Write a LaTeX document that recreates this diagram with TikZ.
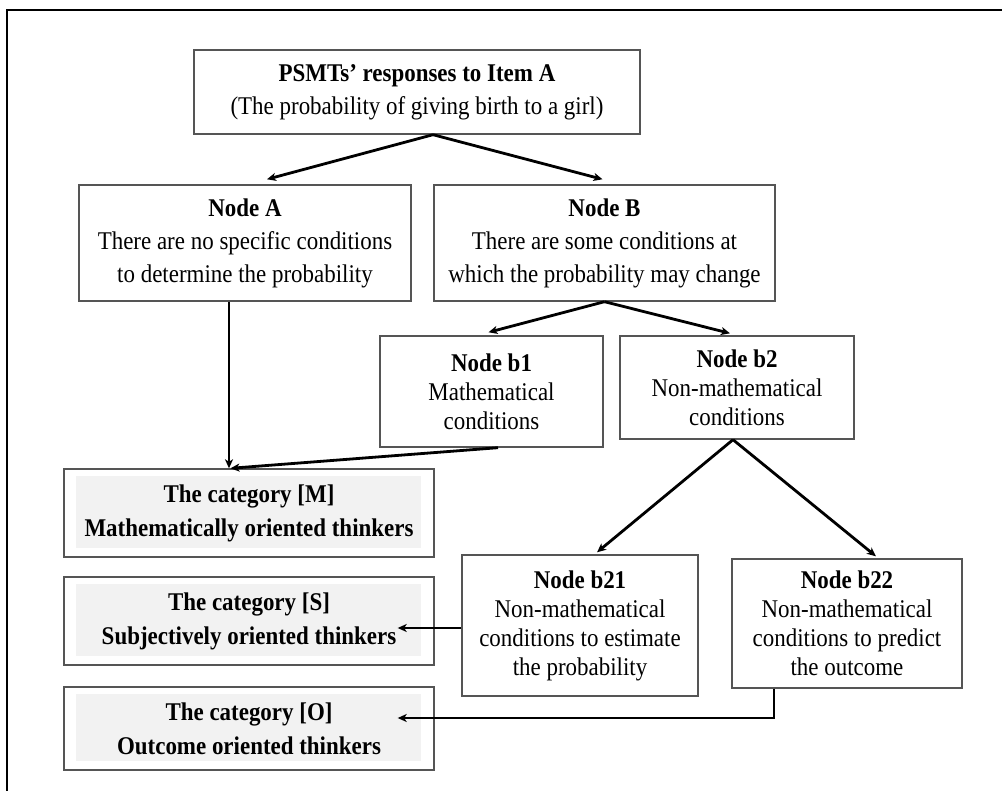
\documentclass[tikz,border=0pt]{standalone}
\usepackage{fontspec}
\setmainfont[FakeStretch=0.9]{Liberation Serif}
\usetikzlibrary{arrows.meta}

\definecolor{boxline}{HTML}{555555}
\definecolor{catgrey}{HTML}{F2F2F2}

\tikzset{
  box/.style={draw=boxline, line width=1.4pt, inner sep=0pt, align=center,
              font=\fontsize{25.5}{33}\selectfont},
  smallbox/.style={box, font=\fontsize{25.5}{29}\selectfont},
  catbox/.style={box, font=\fontsize{25.5}{34}\selectfont\bfseries,
    path picture={\fill[catgrey]
      ([shift={(12pt,-7pt)}]path picture bounding box.north west) rectangle
      ([shift={(-13pt,9pt)}]path picture bounding box.south east);}},
  link/.style={line width=2.8pt, -{Stealth[length=9pt,width=8pt,inset=2.5pt]}},
}

\begin{document}
\begin{tikzpicture}[x=1pt,y=-1pt]
\useasboundingbox (0,0) rectangle (1002,791);

% outer frame
\draw[line width=2.5pt] (7,791) -- (7,10) -- (1002,10);

% top level
\node[box, minimum width=446, minimum height=84] (top) at (417,92)
  {\textbf{PSMTs’ responses to Item A}\\(The probability of giving birth to a girl)};

% first split
\node[box, minimum width=332, minimum height=116] (A) at (245,243)
  {\textbf{Node A}\\There are no specific conditions\\to determine the probability};
\node[box, minimum width=341, minimum height=116] (B) at (604.5,243)
  {\textbf{Node B}\\There are some conditions at\\which the probability may change};

% second split
\node[smallbox, minimum width=223, minimum height=111] (b1) at (491.5,391.5)
  {\textbf{Node b1}\\Mathematical\\conditions};
\node[smallbox, minimum width=234, minimum height=103] (b2) at (737,387.5)
  {\textbf{Node b2}\\Non-mathematical\\conditions};

% third split
\node[smallbox, minimum width=236, minimum height=141] (b21) at (580,625.5)
  {\textbf{Node b21}\\Non-mathematical\\conditions to estimate\\the probability};
\node[smallbox, minimum width=230, minimum height=129] (b22) at (847,623.5)
  {\textbf{Node b22}\\Non-mathematical\\conditions to predict\\the outcome};

% categories
\node[catbox, minimum width=370, minimum height=88] (M) at (249,513)
  {The category [M]\\Mathematically oriented thinkers};
\node[catbox, minimum width=370, minimum height=88] (S) at (249,621)
  {The category [S]\\Subjectively oriented thinkers};
\node[catbox, minimum width=370, minimum height=83] (O) at (249,728.5)
  {The category [O]\\Outcome oriented thinkers};

% connectors
\draw[link] ([xshift=16pt]top.south) -- ([xshift=22pt,yshift=5pt]A.north);
\draw[link] ([xshift=16pt]top.south) -- ([xshift=-2pt,yshift=5pt]B.north);
\draw[link] (B.south) -- ([xshift=-3pt,yshift=3pt]b1.north);
\draw[link] (B.south) -- ([xshift=-7pt,yshift=2pt]b2.north);
\draw[link] ([xshift=-4pt]b2.south) -- ([xshift=17pt,yshift=2pt]b21.north);
\draw[link] ([xshift=-4pt]b2.south) -- ([xshift=29pt,yshift=2pt]b22.north);
\coordinate (mtop) at ([xshift=-16pt]A.south |- M.north);
\draw[link] ([xshift=-16pt]A.south) -- (mtop);
\draw[link] ([xshift=6.5pt]b1.south) -- ([xshift=1.5pt]mtop);
\coordinate (sfrom) at ([yshift=-2.5pt]b21.west);
\coordinate (sinto) at ([xshift=-37pt]S.east);
\draw[link] (sfrom) -- (sinto |- sfrom);
\draw[link] ([xshift=-73pt]b22.south) |- ([xshift=-37pt,yshift=10.5pt]O.east);
\end{tikzpicture}
\end{document}
